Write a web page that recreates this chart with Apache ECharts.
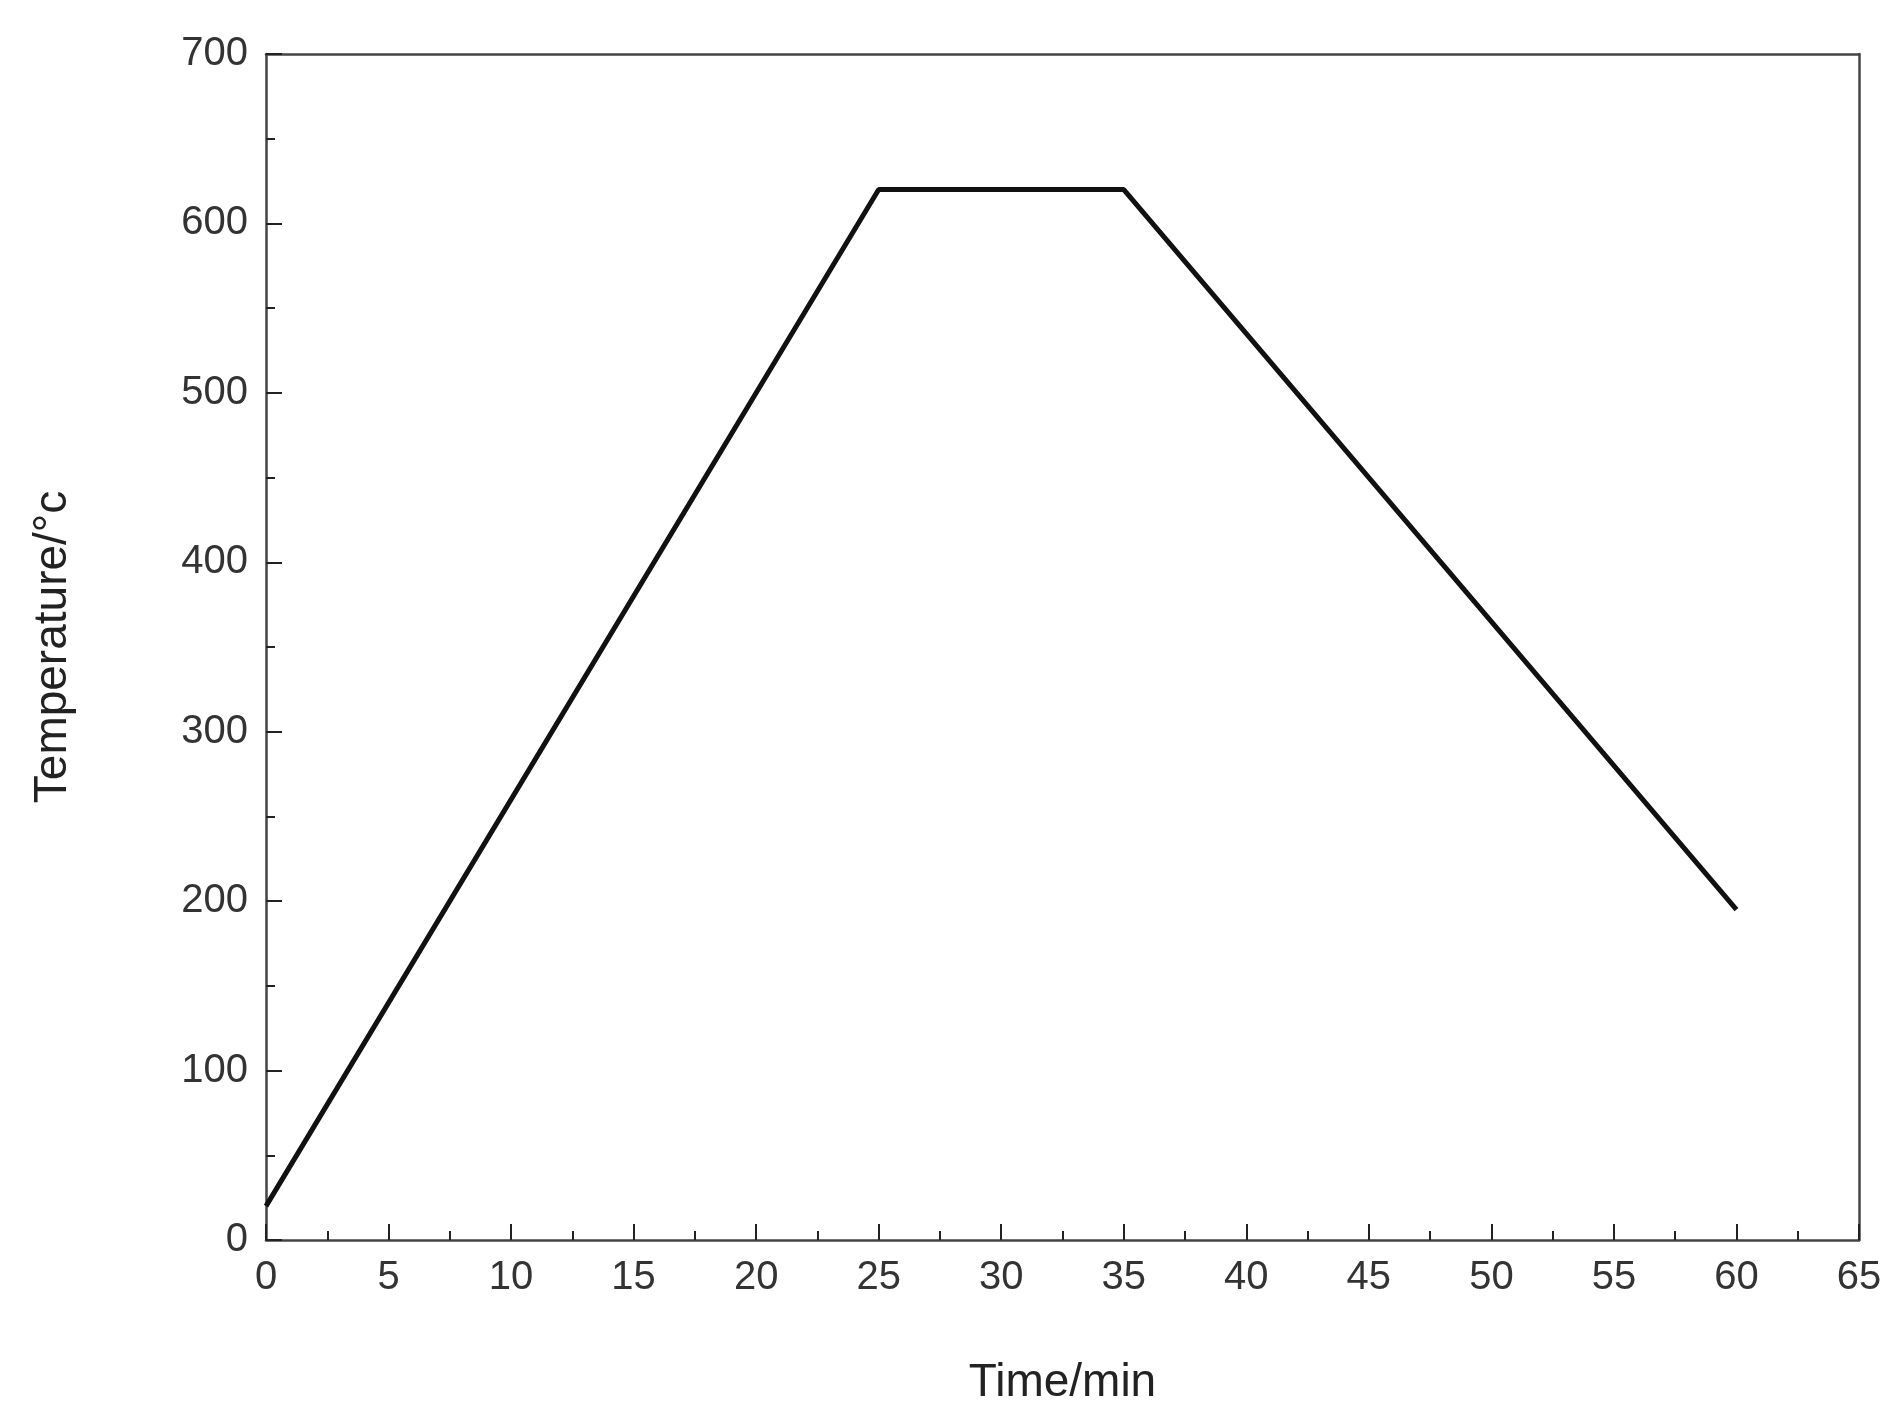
<!DOCTYPE html>
<html>
<head>
<meta charset="utf-8">
<script src="https://cdn.jsdelivr.net/npm/echarts@6/dist/echarts.min.js"></script>
<style>html,body{margin:0;padding:0;background:#fff}#chart{width:1892px;height:1427px}</style>
</head>
<body>
<div id="chart"></div>
<script>
var time_min = [0, 25, 35, 60];
var temperature = [20, 620, 620, 195];

var axisColor = "#444";
var font = "Arial, 'Liberation Sans', sans-serif";

function make_axis(pos, show_labels, extra) {
   var ax = {
      type: "value",
      position: pos,
      axisLine: { show: true, onZero: false, lineStyle: { color: axisColor, width: 2.5 } },
      axisTick: { show: show_labels, inside: true, length: 16, lineStyle: { color: "#222", width: 2 } },
      minorTick: { show: show_labels, splitNumber: 2, length: 9, lineStyle: { color: "#222", width: 2 } },
      axisLabel: { show: show_labels, color: "#333", fontSize: 40, fontFamily: font, margin: 18 },
      splitLine: { show: false },
   };
   return Object.assign(ax, extra);
}

var points = time_min.map((t, i) => [t, temperature[i]]);

var option = {
   animation: false,
   grid: { left: 266, right: 33, top: 54, bottom: 187 },
   xAxis: [
      make_axis("bottom", true, {
         min: 0, max: 65, interval: 5,
         name: "Time/min", nameLocation: "middle", nameGap: 120,
         nameTextStyle: { fontSize: 46, color: "#222", fontFamily: font },
      }),
      make_axis("top", false, { min: 0, max: 65, interval: 5 }),
   ],
   yAxis: [
      make_axis("left", true, {
         min: 0, max: 700, interval: 100,
         name: "Temperature/°c", nameLocation: "middle", nameGap: 190,
         nameTextStyle: { fontSize: 46, color: "#222", fontFamily: font },
      }),
      make_axis("right", false, { min: 0, max: 700, interval: 100 }),
   ],
   series: [
      {
         type: "line",
         data: points,
         symbol: "none",
         lineStyle: { color: "#111", width: 5 },
      },
   ],
};

var myChart = echarts.init(document.querySelector("#chart"));
myChart.setOption(option, true);
</script>
</body>
</html>
